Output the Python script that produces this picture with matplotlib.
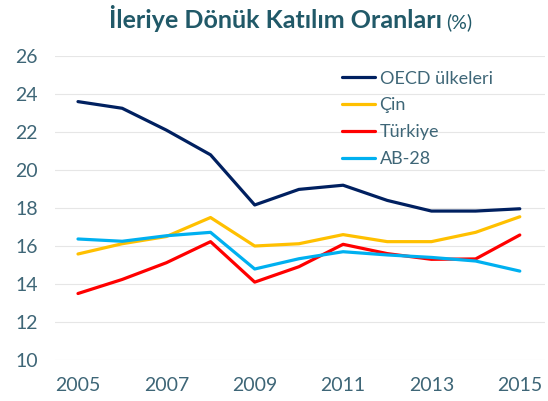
import matplotlib.pyplot as plt

years = list(range(2005, 2016))
oecd = [23.6, 23.25, 22.1, 20.8, 18.16, 18.98, 19.2, 18.4, 17.84, 17.84, 17.96]
cin = [15.58, 16.12, 16.5, 17.5, 16.0, 16.12, 16.6, 16.23, 16.23, 16.72, 17.54]
turkiye = [13.5, 14.24, 15.12, 16.23, 14.1, 14.91, 16.09, 15.6, 15.3, 15.32, 16.58]
ab28 = [16.37, 16.25, 16.54, 16.72, 14.79, 15.33, 15.7, 15.53, 15.4, 15.21, 14.68]

series = [
    ("OECD ülkeleri", oecd, "#002060"),
    ("Çin", cin, "#FFC000"),
    ("Türkiye", turkiye, "#FF0000"),
    ("AB-28", ab28, "#00B0F0"),
]

plt.rcParams['font.family'] = ['Lato', 'DejaVu Sans']
txt_color = "#3E6677"

fig = plt.figure(figsize=(5.48, 4.01), dpi=100)
ax = fig.add_axes([0.1004, 0.1022, 0.8941, 0.7581])

for name, vals, col in series:
    ax.plot(years, vals, color=col, lw=2.3, label=name, solid_capstyle='round')

ax.set_ylim(10, 26)
ax.set_yticks(range(10, 27, 2))
ax.set_xlim(2004.48, 2015.57)
ax.set_xticks(range(2005, 2016, 2))
ax.grid(axis='y', color='#E6E6E6', lw=0.8)
ax.set_axisbelow(True)
for s in ax.spines.values():
    s.set_visible(False)
ax.tick_params(length=0, labelsize=14, colors=txt_color)
ax.tick_params(axis='y', pad=12.5)
ax.tick_params(axis='x', pad=12)

leg = ax.legend(loc='upper left', bbox_to_anchor=(0.5857, 0.952), frameon=False,
                fontsize=13, handlelength=1.83, handletextpad=0.25,
                labelspacing=0.6, labelcolor=txt_color,
                borderpad=0, borderaxespad=0)

fig.text(0.8066, 0.930, "İleriye Dönük Katılım Oranları", ha='right', va='baseline',
         fontsize=18, fontweight='bold', color="#215968")
fig.text(0.8135, 0.930, "(%)", ha='left', va='baseline', fontsize=14, color="#215968")

fig.savefig("out.png", dpi=100)
